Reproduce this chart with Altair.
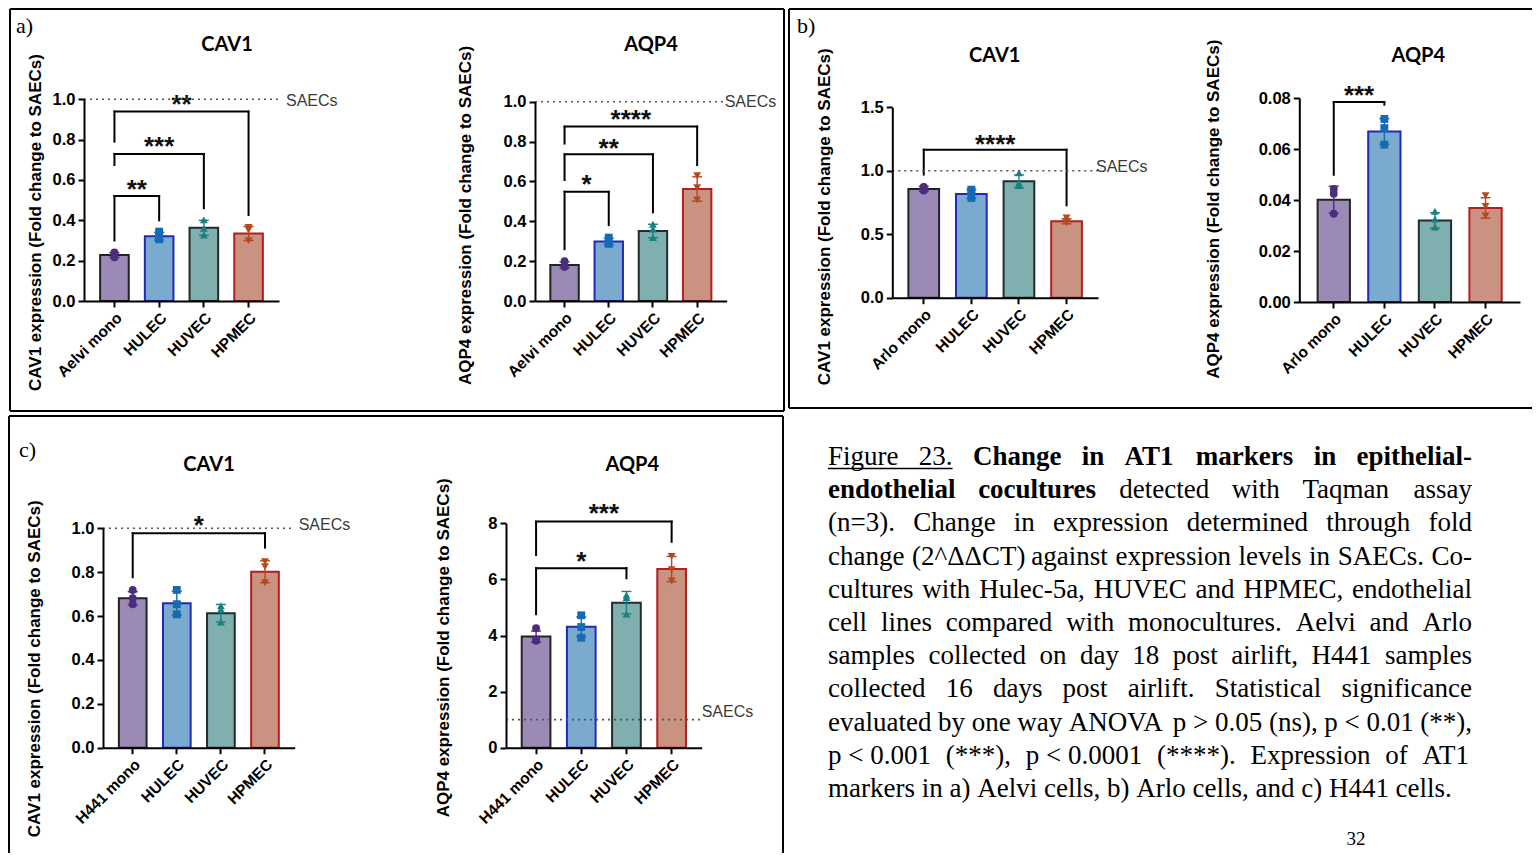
import altair as alt
import pandas as pd

# ------------------------------------------------------------------ data
CATS_A = ["Aelvi mono", "HULEC", "HUVEC", "HPMEC"]
CATS_B = ["Arlo mono", "HULEC", "HUVEC", "HPMEC"]
CATS_C = ["H441 mono", "HULEC", "HUVEC", "HPMEC"]
ALL_CATS = ["Aelvi mono", "Arlo mono", "H441 mono", "HULEC", "HUVEC", "HPMEC"]

# a) Aelvi
A_CAV1_MEAN = [0.228, 0.321, 0.363, 0.335]
A_CAV1_SD = [0.012, 0.019, 0.037, 0.035]
A_CAV1_REPS = [[0.217, 0.241, 0.236], [0.344, 0.306, 0.319], [0.402, 0.360, 0.327], [0.365, 0.352, 0.299]]
A_CAV1_JIT = [[-12, 0, 12], [-7, -5, 6], [0, 0, 0], [-6, 6, 1]]
A_CAV1_BRACKETS = [(0, 1, 0.30, 0.40, 0.52, "**", 0.583),
                   (0, 2, 0.674, 0.46, 0.729, "***", 0.798),
                   (0, 3, 0.79, 0.426, 0.939, "**", 1.005)]

A_AQP4_MEAN = [0.181, 0.298, 0.351, 0.562]
A_AQP4_SD = [0.015, 0.017, 0.034, 0.061]
A_AQP4_REPS = [[0.173, 0.200, 0.172], [0.318, 0.287, 0.290], [0.385, 0.361, 0.318], [0.629, 0.569, 0.507]]
A_AQP4_JIT = [[-11, 0, 11], [-7, -6, 6], [-6, 5, 0], [0, 0, 0]]
A_AQP4_BRACKETS = [(0, 1, 0.26, 0.381, 0.548, "*", 0.616),
                   (0, 2, 0.607, 0.445, 0.736, "**", 0.80),
                   (0, 3, 0.79, 0.682, 0.875, "****", 0.942)]

# b) Arlo
B_CAV1_MEAN = [0.857, 0.817, 0.917, 0.602]
B_CAV1_SD = [0.020, 0.035, 0.050, 0.020]
B_CAV1_REPS = [[0.870, 0.845, 0.872], [0.851, 0.838, 0.786], [0.983, 0.883, 0.904], [0.589, 0.602, 0.628]]
B_CAV1_JIT = [[-11, -3, 5], [-5, 6, 0], [0, -6, 6], [-13, -1, 12]]
B_CAV1_BRACKETS = [(0, 3, 0.97, 0.728, 1.166, "****", 1.258)]

B_AQP4_MEAN = [0.0401, 0.0669, 0.0320, 0.0369]
B_AQP4_SD = [0.0053, 0.0050, 0.0030, 0.0040]
B_AQP4_REPS = [[0.0443, 0.0425, 0.0346], [0.0718, 0.0682, 0.0617], [0.0356, 0.0325, 0.0294], [0.0417, 0.0375, 0.0338]]
B_AQP4_JIT = [[-8, 6, 0], [0, 0, 0], [0, 0, 0], [0, 0, 0]]
B_AQP4_BRACKETS = [(0, 1, 0.0499, 0.0774, 0.0784, "***", 0.0835)]

# c) H441
C_CAV1_MEAN = [0.681, 0.658, 0.613, 0.802]
C_CAV1_SD = [0.030, 0.055, 0.040, 0.050]
C_CAV1_REPS = [[0.719, 0.654, 0.681], [0.719, 0.654, 0.608], [0.647, 0.631, 0.572], [0.848, 0.825, 0.752]]
C_CAV1_JIT = [[0, -6, 6], [0, 0, 0], [-5, 6, 0], [-6, 6, 0]]
C_CAV1_BRACKETS = [(0, 3, 0.777, 0.912, 0.977, "*", 1.042)]

C_AQP4_MEAN = [3.96, 4.31, 5.17, 6.37]
C_AQP4_SD = [0.20, 0.35, 0.40, 0.45]
C_AQP4_REPS = [[4.26, 3.81, 3.86], [4.72, 4.30, 3.92], [5.44, 5.35, 4.76], [6.82, 6.35, 5.95]]
C_AQP4_JIT = [[0, -7, 6], [0, 0, 0], [-6, 6, 1], [0, 0, 0]]
C_AQP4_BRACKETS = [(0, 2, 4.76, 6.04, 6.40, "*", 6.87),
                   (0, 3, 6.87, 7.34, 8.06, "***", 8.59)]

CAPTION_LINES = [
    [("Figure", "u"), ("23.", "u"), ("Change", "b"), ("in", "b"), ("AT1", "b"),
     ("markers", "b"), ("in", "b"), ("epithelial-", "b")],
    [("endothelial", "b"), ("cocultures", "b"), ("detected", "r"), ("with", "r"),
     ("Taqman", "r"), ("assay", "r")],
    "(n=3). Change in expression determined through fold",
    "change (2^ΔΔCT) against expression levels in SAECs. Co-",
    "cultures with Hulec-5a, HUVEC and HPMEC, endothelial",
    "cell lines compared with monocultures. Aelvi and Arlo",
    "samples collected on day 18 post airlift, H441 samples",
    "collected 16 days post airlift. Statistical significance",
    ["evaluated", "by", "one", "way", "ANOVA", "p > 0.05", "(ns),", "p < 0.01", "(**),"],
    ["p < 0.001", "(***),", "p < 0.0001", "(****).", "Expression", "of", "AT1"],
    "markers in a) Aelvi cells, b) Arlo cells, and c) H441 cells.",
]
PAGE_NUMBER = "32"

# ------------------------------------------------------------------ style / layout
OX, OY = 8, 8          # page margin: page px -> chart px
W, H = 1524, 845
SANS = "Liberation Sans"
SERIF = "Liberation Serif"
TITLE_FONT = "Lato"

BAR_FILLS = ["#9b8ab5", "#9b8ab5", "#9b8ab5", "#7baacf", "#7fafae", "#c99281"]
BAR_EDGES = ["#222222", "#222222", "#222222", "#2329b4", "#1f2d2d", "#b41e1e"]
DOT_COLORS = ["#4b2c7f", "#4b2c7f", "#4b2c7f", "#1669b3", "#1a8181", "#b4481f"]
DOT_SHAPES = ["circle", "circle", "circle", "square", "triangle-up", "triangle-down"]

fill_sc = alt.Scale(domain=ALL_CATS, range=BAR_FILLS)
edge_sc = alt.Scale(domain=ALL_CATS, range=BAR_EDGES)
dot_sc = alt.Scale(domain=ALL_CATS, range=DOT_COLORS)
shape_sc = alt.Scale(domain=ALL_CATS, range=DOT_SHAPES)

YT1 = "CAV1 expression (Fold change to SAECs)"
YT2 = "AQP4 expression (Fold change to SAECs)"
LAY = {
    "a_cav1": dict(ax=84, xend=279, y0=301, ytop=99.3, top=1.0, ticks=[0, 0.2, 0.4, 0.6, 0.8, 1.0],
                   fmt=".1f", pi=0.36, po=0.361, ytitle=YT1, ytx=35, yty=222,
                   title="CAV1", tx=227, ty=45, saec=(7, 2)),
    "a_aqp4": dict(ax=535, xend=726.7, y0=301, ytop=101.7, top=1.0, ticks=[0, 0.2, 0.4, 0.6, 0.8, 1.0],
                   fmt=".1f", pi=0.357, po=0.347, ytitle=YT2, ytx=465, yty=215,
                   title="AQP4", tx=651, ty=45, saec=(-2, 0)),
    "b_cav1": dict(ax=892.3, xend=1098, y0=297.7, ytop=107.3, top=1.5, ticks=[0, 0.5, 1.0, 1.5],
                   fmt=".1f", pi=0.355, po=0.338, ytitle=YT1, ytx=824.7, yty=216.3,
                   title="CAV1", tx=994.7, ty=56, saec=(-2, -4)),
    "b_aqp4": dict(ax=1299.3, xend=1520, y0=302, ytop=98, top=0.08, ticks=[0, 0.02, 0.04, 0.06, 0.08],
                   fmt=".2f", pi=0.362, po=0.362, ytitle=YT2, ytx=1213.3, yty=208.7,
                   title="AQP4", tx=1418.3, ty=56.3, saec=None),
    "c_cav1": dict(ax=103, xend=294.7, y0=747.7, ytop=528.3, top=1.0, ticks=[0, 0.2, 0.4, 0.6, 0.8, 1.0],
                   fmt=".1f", pi=0.372, po=0.36, ytitle=YT1, ytx=34.7, yty=668.3,
                   title="CAV1", tx=209, ty=465, saec=(4, -3)),
    "c_aqp4": dict(ax=506, xend=701.7, y0=747.7, ytop=523.3, top=8, ticks=[0, 2, 4, 6, 8],
                   fmt="d", pi=0.365, po=0.348, ytitle=YT2, ytx=443.3, yty=647.3,
                   title="AQP4", tx=632.3, ty=465, saec=(0, -8)),
}
STAR_SIZE = 26
TICK_FS = 16.5
XLAB_FS = 15.5
YTITLE_FS = 17


def subplot(cats, means, sds, reps, jit, brackets, L):
    step = (L["xend"] - L["ax"]) / (len(cats) - L["pi"] + 2 * L["po"])

    def xs():
        return alt.Scale(type="band", domain=cats, range=[L["ax"] - OX, L["xend"] - OX],
                         paddingInner=L["pi"], paddingOuter=L["po"])

    def ys():
        return alt.Scale(type="linear", domain=[0, L["top"]], range=[L["y0"] - OY, L["ytop"] - OY],
                         nice=False, zero=True)

    xaxis = alt.Axis(orient="bottom", offset=(L["y0"] - OY) - H, title=None, labelAngle=-45,
                     labelFont=SANS, labelFontSize=XLAB_FS, labelFontWeight="bold", labelColor="black",
                     labelPadding=3, tickSize=6, tickWidth=2, tickColor="black",
                     domainWidth=2, domainColor="black", grid=False, labelOverlap=False, zindex=1)
    yaxis = alt.Axis(orient="left", offset=-(L["ax"] - OX), values=L["ticks"], format=L["fmt"],
                     title=L["ytitle"], titleX=L["ytx"] - L["ax"], titleY=L["yty"] - OY,
                     titleAngle=-90, titleAlign="center", titleBaseline="middle",
                     titleFont=SANS, titleFontSize=YTITLE_FS, titleFontWeight="bold", titleColor="black",
                     labelFont=SANS, labelFontSize=TICK_FS, labelFontWeight="bold", labelColor="black",
                     labelPadding=3, labelFlush=False, labelOverlap=False,
                     tickSize=6, tickWidth=2, tickColor="black",
                     domainWidth=2, domainColor="black", grid=False, zindex=1)

    def X(f, **kw):
        return alt.X(f, scale=xs(), axis=None, **kw)

    def Y(f):
        return alt.Y(f, scale=ys(), axis=None)

    bar_df = pd.DataFrame({"cat": cats, "mean": means,
                           "lo": [m - s for m, s in zip(means, sds)],
                           "hi": [m + s for m, s in zip(means, sds)]})
    cap_df = pd.DataFrame({"cat": cats * 2, "v": list(bar_df["lo"]) + list(bar_df["hi"])})
    pt_rows = [{"cat": c, "v": v, "j": j}
               for c, vs, js in zip(cats, reps, jit) for v, j in zip(vs, js)]
    pt_df = pd.DataFrame(pt_rows)

    layers = []
    layers.append(alt.Chart(bar_df).mark_bar(strokeWidth=2).encode(
        x=alt.X("cat:N", scale=xs(), axis=xaxis),
        y=alt.Y("mean:Q", scale=ys(), axis=yaxis),
        fill=alt.Fill("cat:N", scale=fill_sc, legend=None),
        stroke=alt.Stroke("cat:N", scale=edge_sc, legend=None)))
    layers.append(alt.Chart(bar_df).mark_rule(strokeWidth=1.4).encode(
        x=X("cat:N"), y=Y("lo:Q"), y2=alt.Y2("hi"),
        color=alt.Color("cat:N", scale=dot_sc, legend=None)))
    layers.append(alt.Chart(cap_df).mark_tick(size=10, thickness=1.4, opacity=1).encode(
        x=X("cat:N"), y=Y("v:Q"),
        color=alt.Color("cat:N", scale=dot_sc, legend=None)))
    for jv in sorted(set(pt_df["j"])):
        sub = pt_df[pt_df["j"] == jv]
        layers.append(alt.Chart(sub).mark_point(filled=True, size=62, opacity=1, dx=float(jv)).encode(
            x=X("cat:N"), y=Y("v:Q"),
            color=alt.Color("cat:N", scale=dot_sc, legend=None),
            shape=alt.Shape("cat:N", scale=shape_sc, legend=None)))

    seg_rows = []
    for (i, j, lb, rb, top, stars, sy) in brackets:
        seg_rows += [dict(xa=cats[i], xb=cats[i], ya=lb, yb=top),
                     dict(xa=cats[i], xb=cats[j], ya=top, yb=top),
                     dict(xa=cats[j], xb=cats[j], ya=top, yb=rb)]
    layers.append(alt.Chart(pd.DataFrame(seg_rows)).mark_rule(
        strokeWidth=2, color="black", strokeCap="square").encode(
        x=X("xa:N"), x2=alt.X2("xb"), y=Y("ya:Q"), y2=alt.Y2("yb")))
    for (i, j, lb, rb, top, stars, sy) in brackets:
        layers.append(alt.Chart(pd.DataFrame({"cat": [cats[i]], "v": [sy], "t": [stars]})).mark_text(
            font=SANS, fontSize=STAR_SIZE, fontWeight="bold", baseline="alphabetic",
            dx=(j - i) * step / 2, dy=0.575 * STAR_SIZE, color="#111111").encode(
            x=X("cat:N"), y=Y("v:Q"), text="t:N"))

    if L["saec"] is not None:
        sdf = pd.DataFrame({"v": [1.0], "t": ["SAECs"]})
        layers.append(alt.Chart(sdf).mark_rule(strokeDash=[2, 4], strokeWidth=1.6, color="#555555").encode(
            x=alt.value(L["ax"] - OX), x2=alt.value(L["xend"] - OX), y=Y("v:Q")))
        layers.append(alt.Chart(sdf).mark_text(
            align="left", baseline="middle", font=SANS, fontSize=16, color="#3a3a3a",
            dy=L["saec"][1]).encode(
            x=alt.value(L["xend"] - OX + L["saec"][0]), y=Y("v:Q"), text="t:N"))

    layers.append(alt.Chart(pd.DataFrame({"t": [L["title"]]})).mark_text(
        font=TITLE_FONT, fontSize=20, fontWeight="bold", align="center", baseline="middle",
        color="black").encode(x=alt.value(L["tx"] - OX), y=alt.value(L["ty"] - OY), text="t:N"))
    return layers


# ------------------------------------------------------------------ caption layout (Times metrics)
TR = {" ": 250, "(": 333, ")": 333, "*": 500, ",": 250, "-": 333, ".": 250, "=": 564,
      "<": 564, ">": 564, "^": 469, "Δ": 612}
TB = {" ": 250, "(": 333, ")": 333, "*": 500, ",": 250, "-": 333, ".": 250}
for d in "0123456789":
    TR[d] = 500
    TB[d] = 500
UP = "ABCDEFGHIJKLMNOPQRSTUVWXYZ"
LO = "abcdefghijklmnopqrstuvwxyz"
TR.update(zip(UP, [722, 667, 667, 722, 611, 556, 722, 722, 333, 389, 722, 611, 889,
                   722, 722, 556, 722, 667, 556, 611, 722, 722, 944, 722, 722, 611]))
TR.update(zip(LO, [444, 500, 444, 500, 444, 333, 500, 500, 278, 278, 500, 278, 778,
                   500, 500, 500, 500, 333, 389, 278, 500, 500, 722, 500, 500, 444]))
TB.update(zip(UP, [722, 667, 722, 722, 667, 611, 778, 778, 389, 500, 778, 667, 944,
                   722, 778, 611, 778, 722, 556, 667, 722, 722, 1000, 722, 722, 667]))
TB.update(zip(LO, [500, 556, 444, 556, 444, 333, 500, 556, 278, 333, 556, 278, 833,
                   556, 500, 556, 556, 444, 389, 333, 556, 500, 722, 500, 500, 444]))

CAP_X0, CAP_X1 = 828, 1472
CAP_BASE0, CAP_LH, CAP_SIZE = 465, 33.2, 27


def tw(s, bold):
    tbl = TB if bold else TR
    return sum(tbl.get(ch, 500) for ch in s) / 1000.0 * CAP_SIZE


cap_rows = []
ul = []
for k, line in enumerate(CAPTION_LINES):
    if isinstance(line, str):
        toks = [(t, "r") for t in line.split(" ")]
    else:
        toks = [t if isinstance(t, tuple) else (t, "r") for t in line]
    widths = [tw(t, s == "b") for t, s in toks]
    if k < len(CAPTION_LINES) - 1 and len(toks) > 1:
        gap = (CAP_X1 - CAP_X0 - sum(widths)) / (len(toks) - 1)
    else:
        gap = 0.25 * CAP_SIZE
    x = CAP_X0
    yb = CAP_BASE0 + k * CAP_LH
    for (t, s), w in zip(toks, widths):
        cap_rows.append({"x": x - OX, "y": yb - OY, "t": t, "s": s})
        if s == "u":
            ul.append((x, x + w, yb))
        x += w + gap

cap_df = pd.DataFrame(cap_rows)
cap_layers = []
for style, weight in (("r", "normal"), ("u", "normal"), ("b", "bold")):
    sub = cap_df[cap_df["s"] == style]
    cap_layers.append(alt.Chart(sub).mark_text(
        font=SERIF, fontSize=CAP_SIZE, fontWeight=weight, align="left", baseline="alphabetic",
        color="black").encode(
        x=alt.X("x:Q", scale=None, axis=None), y=alt.Y("y:Q", scale=None, axis=None), text="t:N"))
ul_df = pd.DataFrame({"x": [min(u[0] for u in ul) - OX], "x2": [max(u[1] for u in ul) - OX],
                      "y": [ul[0][2] + 3.5 - OY]})
cap_layers.append(alt.Chart(ul_df).mark_rule(strokeWidth=1.4, color="black").encode(
    x=alt.X("x:Q", scale=None, axis=None), x2="x2:Q", y=alt.Y("y:Q", scale=None, axis=None)))

# ------------------------------------------------------------------ panel boxes and labels
one = pd.DataFrame({"k": [0]})


def hline(x0, x1, y):
    return alt.Chart(one).mark_rule(strokeWidth=2, color="black").encode(
        x=alt.value(x0 - OX), x2=alt.value(x1 - OX), y=alt.value(y - OY))


def vline(x, y0, y1):
    return alt.Chart(one).mark_rule(strokeWidth=2, color="black").encode(
        x=alt.value(x - OX), y=alt.value(y0 - OY), y2=alt.value(y1 - OY))


def label(txt, x, y, size=22, font=SERIF, align="left"):
    return alt.Chart(pd.DataFrame({"t": [txt]})).mark_text(
        font=font, fontSize=size, align=align, baseline="alphabetic", color="black").encode(
        x=alt.value(x - OX), y=alt.value(y - OY), text="t:N")


decor = [
    # panel a
    hline(10, 784, 9), hline(10, 784, 411), vline(10, 9, 411), vline(784, 9, 411),
    # panel b (runs off the page on the right)
    hline(789, 1540, 9), hline(789, 1540, 408), vline(789, 9, 408),
    # panel c (runs off the page at the bottom)
    hline(9, 783, 416), vline(9, 416, 861), vline(783, 416, 861),
    label("a)", 16, 33),
    label("b)", 797, 33),
    label("c)", 19, 457),
    label(PAGE_NUMBER, 1356, 845, size=19, align="center"),
]

layers = []
layers += subplot(CATS_A, A_CAV1_MEAN, A_CAV1_SD, A_CAV1_REPS, A_CAV1_JIT, A_CAV1_BRACKETS, LAY["a_cav1"])
layers += subplot(CATS_A, A_AQP4_MEAN, A_AQP4_SD, A_AQP4_REPS, A_AQP4_JIT, A_AQP4_BRACKETS, LAY["a_aqp4"])
layers += subplot(CATS_B, B_CAV1_MEAN, B_CAV1_SD, B_CAV1_REPS, B_CAV1_JIT, B_CAV1_BRACKETS, LAY["b_cav1"])
layers += subplot(CATS_B, B_AQP4_MEAN, B_AQP4_SD, B_AQP4_REPS, B_AQP4_JIT, B_AQP4_BRACKETS, LAY["b_aqp4"])
layers += subplot(CATS_C, C_CAV1_MEAN, C_CAV1_SD, C_CAV1_REPS, C_CAV1_JIT, C_CAV1_BRACKETS, LAY["c_cav1"])
layers += subplot(CATS_C, C_AQP4_MEAN, C_AQP4_SD, C_AQP4_REPS, C_AQP4_JIT, C_AQP4_BRACKETS, LAY["c_aqp4"])

chart = alt.layer(*layers, *cap_layers, *decor).resolve_scale(
    x="independent", y="independent"
).resolve_axis(
    x="independent", y="independent"
).properties(
    width=W, height=H, padding=0, autosize=alt.AutoSizeParams(type="none"), background="white"
).configure_view(stroke=None)

chart.save("out.html", embed_options={"renderer": "svg", "actions": False})
